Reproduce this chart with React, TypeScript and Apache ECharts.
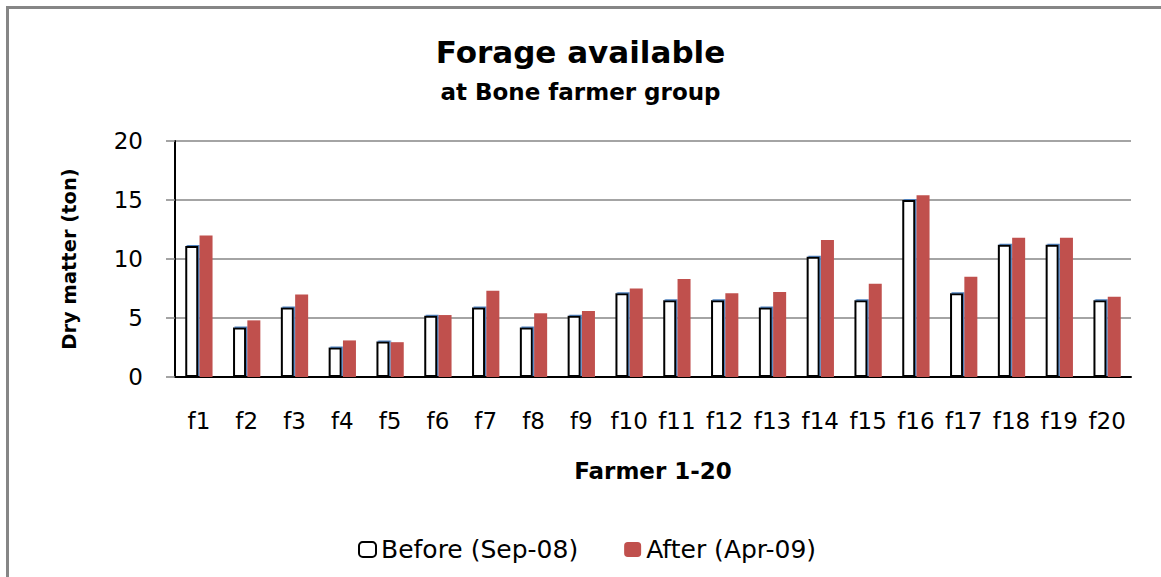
import React, { useEffect, useRef } from "react";
import * as echarts from "echarts";

const categories = ["f1","f2","f3","f4","f5","f6","f7","f8","f9","f10","f11","f12","f13","f14","f15","f16","f17","f18","f19","f20"];
const beforeValues = [11.1, 4.2, 5.9, 2.5, 3.0, 5.2, 5.9, 4.2, 5.2, 7.1, 6.5, 6.5, 5.9, 10.2, 6.5, 15.0, 7.1, 11.2, 11.2, 6.5];
const afterValues = [12.0, 4.8, 7.0, 3.1, 2.95, 5.25, 7.3, 5.4, 5.6, 7.5, 8.3, 7.1, 7.2, 11.6, 7.9, 15.4, 8.5, 11.8, 11.8, 6.8];
const seriesNames = ["Before (Sep-08)", "After (Apr-09)"];
const yTicks = { min: 0, max: 20, interval: 5 };

export default function App() {
  const ref = useRef<HTMLDivElement>(null);
  useEffect(() => {
    if (!ref.current) return;
    const chart = echarts.init(ref.current, null, { renderer: "svg" });
    const tickFont = "DejaVu Sans";
    const boldFont = "DejaVu Sans";
    chart.setOption({
      animation: false,
      backgroundColor: "#ffffff",
      title: {
        text: "Forage available",
        subtext: "at Bone farmer group",
        left: "center",
        top: 31,
        itemGap: 13,
        textStyle: { fontFamily: boldFont, fontWeight: "bold", fontSize: 31, color: "#000" },
        subtextStyle: { fontFamily: boldFont, fontWeight: "bold", fontSize: 23, color: "#000" },
      },
      legend: {
        left: 353,
        top: 532,
        itemGap: 46,
        itemWidth: 17,
        itemHeight: 15,
        textStyle: { fontFamily: tickFont, fontSize: 25, color: "#000" },
        data: seriesNames,
      },
      grid: { left: 175, right: 30, top: 141, bottom: 200, containLabel: false },
      xAxis: {
        type: "category",
        data: categories,
        name: "Farmer 1-20",
        nameLocation: "middle",
        nameGap: 82,
        nameTextStyle: { fontFamily: boldFont, fontWeight: "bold", fontSize: 23, color: "#000" },
        axisLine: { show: true, lineStyle: { color: "#000", width: 2 } },
        axisTick: { show: false },
        axisLabel: { margin: 32, fontFamily: tickFont, fontSize: 23, color: "#000", interval: 0 },
      },
      yAxis: {
        type: "value",
        min: yTicks.min,
        max: yTicks.max,
        interval: yTicks.interval,
        name: "Dry matter (ton)",
        nameLocation: "middle",
        nameGap: 96,
        nameRotate: 90,
        nameTextStyle: { fontFamily: boldFont, fontWeight: "bold", fontSize: 19.5, color: "#000" },
        axisLine: { show: true, lineStyle: { color: "#000", width: 2 } },
        axisTick: { show: true, length: 9, lineStyle: { color: "#868686", width: 1.5 } },
        axisLabel: { margin: 32, fontFamily: tickFont, fontSize: 23, color: "#000" },
        splitLine: { show: true, lineStyle: { color: "#868686", width: 1.5 } },
      },
      graphic: [
        {
          type: "polyline",
          shape: { points: [[7.5, 577], [7.5, 7.5], [1161, 7.5]] },
          style: { stroke: "#868686", lineWidth: 3, fill: "none" },
          silent: true,
        },
      ],
      series: [
        {
          name: seriesNames[0],
          type: "bar",
          data: beforeValues,
          barWidth: 13,
          barGap: "10%",
          itemStyle: {
            color: "#ffffff",
            borderColor: "#000000",
            borderWidth: 2,
            shadowColor: "#4F81BD",
            shadowOffsetX: 1.5,
            shadowOffsetY: -1,
            shadowBlur: 0,
          },
        },
        {
          name: seriesNames[1],
          type: "bar",
          data: afterValues,
          barWidth: 13,
          itemStyle: { color: "#C0504D" },
        },
      ],
    });
    return () => chart.dispose();
  }, []);
  return (
    <div
      ref={ref}
      style={{ position: "fixed", left: 0, top: 0, width: 1161, height: 577, background: "#fff" }}
    />
  );
}
